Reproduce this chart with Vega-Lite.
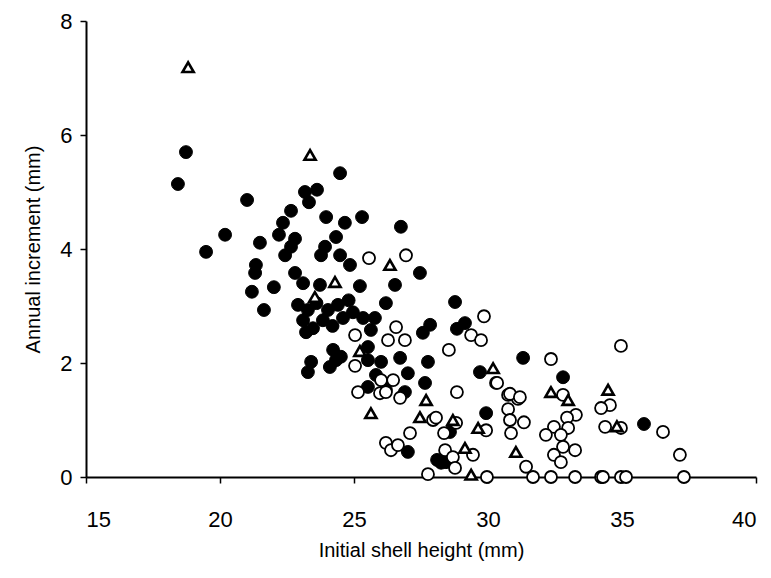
{
  "$schema": "https://vega.github.io/schema/vega-lite/v6.json",
  "width": 670,
  "height": 456,
  "autosize": {"type": "none"},
  "padding": {"left": 86, "top": 21, "right": 15, "bottom": 101},
  "background": "white",
  "config": {
    "view": {"stroke": null},
    "font": "Liberation Sans",
    "axis": {
      "grid": false,
      "domainColor": "black",
      "domainWidth": 2,
      "tickColor": "black",
      "tickWidth": 1.5,
      "tickSize": 6,
      "labelFontSize": 22,
      "labelColor": "black",
      "titleFontSize": 20,
      "titleFontWeight": "normal",
      "titleColor": "black"
    }
  },
  "data": {
    "values": [
      {"h": 18.43, "inc": 5.14, "g": "f"},
      {"h": 18.73, "inc": 5.70, "g": "f"},
      {"h": 19.48, "inc": 3.95, "g": "f"},
      {"h": 20.19, "inc": 4.25, "g": "f"},
      {"h": 21.01, "inc": 4.86, "g": "f"},
      {"h": 21.49, "inc": 4.11, "g": "f"},
      {"h": 21.34, "inc": 3.72, "g": "f"},
      {"h": 21.31, "inc": 3.58, "g": "f"},
      {"h": 21.19, "inc": 3.25, "g": "f"},
      {"h": 22.01, "inc": 3.33, "g": "f"},
      {"h": 21.64, "inc": 2.93, "g": "f"},
      {"h": 23.17, "inc": 5.00, "g": "f"},
      {"h": 23.62, "inc": 5.04, "g": "f"},
      {"h": 23.32, "inc": 4.82, "g": "f"},
      {"h": 24.48, "inc": 5.33, "g": "f"},
      {"h": 22.65, "inc": 4.67, "g": "f"},
      {"h": 22.35, "inc": 4.46, "g": "f"},
      {"h": 22.20, "inc": 4.25, "g": "f"},
      {"h": 22.80, "inc": 4.18, "g": "f"},
      {"h": 22.65, "inc": 4.04, "g": "f"},
      {"h": 22.43, "inc": 3.89, "g": "f"},
      {"h": 23.96, "inc": 4.56, "g": "f"},
      {"h": 24.66, "inc": 4.46, "g": "f"},
      {"h": 25.30, "inc": 4.56, "g": "f"},
      {"h": 24.33, "inc": 4.21, "g": "f"},
      {"h": 23.92, "inc": 4.04, "g": "f"},
      {"h": 23.77, "inc": 3.89, "g": "f"},
      {"h": 24.48, "inc": 3.89, "g": "f"},
      {"h": 24.85, "inc": 3.72, "g": "f"},
      {"h": 22.80, "inc": 3.58, "g": "f"},
      {"h": 23.10, "inc": 3.40, "g": "f"},
      {"h": 23.73, "inc": 3.37, "g": "f"},
      {"h": 25.22, "inc": 3.35, "g": "f"},
      {"h": 26.75, "inc": 4.39, "g": "f"},
      {"h": 27.46, "inc": 3.58, "g": "f"},
      {"h": 26.53, "inc": 3.37, "g": "f"},
      {"h": 26.19, "inc": 3.05, "g": "f"},
      {"h": 25.78, "inc": 2.79, "g": "f"},
      {"h": 25.63, "inc": 2.58, "g": "f"},
      {"h": 22.91, "inc": 3.02, "g": "f"},
      {"h": 23.28, "inc": 2.93, "g": "f"},
      {"h": 23.10, "inc": 2.75, "g": "f"},
      {"h": 23.47, "inc": 2.61, "g": "f"},
      {"h": 24.03, "inc": 2.93, "g": "f"},
      {"h": 24.40, "inc": 3.02, "g": "f"},
      {"h": 24.59, "inc": 2.79, "g": "f"},
      {"h": 24.96, "inc": 2.89, "g": "f"},
      {"h": 25.34, "inc": 2.79, "g": "f"},
      {"h": 23.84, "inc": 2.75, "g": "f"},
      {"h": 24.20, "inc": 2.65, "g": "f"},
      {"h": 23.60, "inc": 3.05, "g": "f"},
      {"h": 24.80, "inc": 3.10, "g": "f"},
      {"h": 23.21, "inc": 2.54, "g": "f"},
      {"h": 23.40, "inc": 2.02, "g": "f"},
      {"h": 23.28, "inc": 1.84, "g": "f"},
      {"h": 24.10, "inc": 1.93, "g": "f"},
      {"h": 24.33, "inc": 2.05, "g": "f"},
      {"h": 24.22, "inc": 2.23, "g": "f"},
      {"h": 24.51, "inc": 2.11, "g": "f"},
      {"h": 25.52, "inc": 2.05, "g": "f"},
      {"h": 25.52, "inc": 2.28, "g": "f"},
      {"h": 26.01, "inc": 2.02, "g": "f"},
      {"h": 26.72, "inc": 2.09, "g": "f"},
      {"h": 27.76, "inc": 2.02, "g": "f"},
      {"h": 27.01, "inc": 1.82, "g": "f"},
      {"h": 25.82, "inc": 1.79, "g": "f"},
      {"h": 27.65, "inc": 1.65, "g": "f"},
      {"h": 25.52, "inc": 1.58, "g": "f"},
      {"h": 26.19, "inc": 1.53, "g": "f"},
      {"h": 26.90, "inc": 1.49, "g": "f"},
      {"h": 27.84, "inc": 2.67, "g": "f"},
      {"h": 27.57, "inc": 2.53, "g": "f"},
      {"h": 28.77, "inc": 3.07, "g": "f"},
      {"h": 29.14, "inc": 2.70, "g": "f"},
      {"h": 28.84, "inc": 2.60, "g": "f"},
      {"h": 29.70, "inc": 1.84, "g": "f"},
      {"h": 31.31, "inc": 2.09, "g": "f"},
      {"h": 32.80, "inc": 1.75, "g": "f"},
      {"h": 35.82, "inc": 0.93, "g": "f"},
      {"h": 29.93, "inc": 1.12, "g": "f"},
      {"h": 28.58, "inc": 0.79, "g": "f"},
      {"h": 28.25, "inc": 0.25, "g": "f"},
      {"h": 28.43, "inc": 0.26, "g": "f"},
      {"h": 28.10, "inc": 0.30, "g": "f"},
      {"h": 27.01, "inc": 0.44, "g": "f"},
      {"h": 25.56, "inc": 3.84, "g": "o"},
      {"h": 26.94, "inc": 3.89, "g": "o"},
      {"h": 25.04, "inc": 2.49, "g": "o"},
      {"h": 26.57, "inc": 2.63, "g": "o"},
      {"h": 26.27, "inc": 2.40, "g": "o"},
      {"h": 26.90, "inc": 2.40, "g": "o"},
      {"h": 25.04, "inc": 1.95, "g": "o"},
      {"h": 26.01, "inc": 1.70, "g": "o"},
      {"h": 26.46, "inc": 1.70, "g": "o"},
      {"h": 25.15, "inc": 1.49, "g": "o"},
      {"h": 25.97, "inc": 1.47, "g": "o"},
      {"h": 26.19, "inc": 1.49, "g": "o"},
      {"h": 26.72, "inc": 1.39, "g": "o"},
      {"h": 27.95, "inc": 1.00, "g": "o"},
      {"h": 27.09, "inc": 0.77, "g": "o"},
      {"h": 26.19, "inc": 0.60, "g": "o"},
      {"h": 26.38, "inc": 0.47, "g": "o"},
      {"h": 26.64, "inc": 0.56, "g": "o"},
      {"h": 28.40, "inc": 0.47, "g": "o"},
      {"h": 27.76, "inc": 0.05, "g": "o"},
      {"h": 29.85, "inc": 2.82, "g": "o"},
      {"h": 29.37, "inc": 2.49, "g": "o"},
      {"h": 29.74, "inc": 2.40, "g": "o"},
      {"h": 28.54, "inc": 2.23, "g": "o"},
      {"h": 32.35, "inc": 2.07, "g": "o"},
      {"h": 34.96, "inc": 2.30, "g": "o"},
      {"h": 30.30, "inc": 1.65, "g": "o"},
      {"h": 28.84, "inc": 1.49, "g": "o"},
      {"h": 30.75, "inc": 1.44, "g": "o"},
      {"h": 31.12, "inc": 1.37, "g": "o"},
      {"h": 32.80, "inc": 1.44, "g": "o"},
      {"h": 34.55, "inc": 1.26, "g": "o"},
      {"h": 34.22, "inc": 1.21, "g": "o"},
      {"h": 30.75, "inc": 1.19, "g": "o"},
      {"h": 30.82, "inc": 1.00, "g": "o"},
      {"h": 31.34, "inc": 0.96, "g": "o"},
      {"h": 30.86, "inc": 0.77, "g": "o"},
      {"h": 33.28, "inc": 1.09, "g": "o"},
      {"h": 32.95, "inc": 1.04, "g": "o"},
      {"h": 32.99, "inc": 0.86, "g": "o"},
      {"h": 32.46, "inc": 0.88, "g": "o"},
      {"h": 32.16, "inc": 0.74, "g": "o"},
      {"h": 32.72, "inc": 0.74, "g": "o"},
      {"h": 32.80, "inc": 0.53, "g": "o"},
      {"h": 33.25, "inc": 0.47, "g": "o"},
      {"h": 32.46, "inc": 0.39, "g": "o"},
      {"h": 32.72, "inc": 0.26, "g": "o"},
      {"h": 34.37, "inc": 0.88, "g": "o"},
      {"h": 34.96, "inc": 0.86, "g": "o"},
      {"h": 36.53, "inc": 0.79, "g": "o"},
      {"h": 37.16, "inc": 0.39, "g": "o"},
      {"h": 28.06, "inc": 1.04, "g": "o"},
      {"h": 28.81, "inc": 0.95, "g": "o"},
      {"h": 29.93, "inc": 0.82, "g": "o"},
      {"h": 28.36, "inc": 0.77, "g": "o"},
      {"h": 28.69, "inc": 0.35, "g": "o"},
      {"h": 29.44, "inc": 0.39, "g": "o"},
      {"h": 28.77, "inc": 0.16, "g": "o"},
      {"h": 29.96, "inc": 0.0, "g": "o"},
      {"h": 31.42, "inc": 0.18, "g": "o"},
      {"h": 31.68, "inc": 0.0, "g": "o"},
      {"h": 32.35, "inc": 0.0, "g": "o"},
      {"h": 33.25, "inc": 0.0, "g": "o"},
      {"h": 34.22, "inc": 0.0, "g": "o"},
      {"h": 34.29, "inc": 0.0, "g": "o"},
      {"h": 34.96, "inc": 0.0, "g": "o"},
      {"h": 35.15, "inc": 0.0, "g": "o"},
      {"h": 37.31, "inc": 0.0, "g": "o"},
      {"h": 30.34, "inc": 1.65, "g": "o"},
      {"h": 30.82, "inc": 1.46, "g": "o"},
      {"h": 31.19, "inc": 1.40, "g": "o"},
      {"h": 18.81, "inc": 7.19, "g": "t"},
      {"h": 23.36, "inc": 5.65, "g": "t"},
      {"h": 24.29, "inc": 3.42, "g": "t"},
      {"h": 23.54, "inc": 3.16, "g": "t"},
      {"h": 26.34, "inc": 3.72, "g": "t"},
      {"h": 25.22, "inc": 2.21, "g": "t"},
      {"h": 27.69, "inc": 1.35, "g": "t"},
      {"h": 27.46, "inc": 1.05, "g": "t"},
      {"h": 25.63, "inc": 1.12, "g": "t"},
      {"h": 30.19, "inc": 1.91, "g": "t"},
      {"h": 32.35, "inc": 1.49, "g": "t"},
      {"h": 32.99, "inc": 1.35, "g": "t"},
      {"h": 34.48, "inc": 1.53, "g": "t"},
      {"h": 34.81, "inc": 0.89, "g": "t"},
      {"h": 28.69, "inc": 1.00, "g": "t"},
      {"h": 29.63, "inc": 0.86, "g": "t"},
      {"h": 31.04, "inc": 0.44, "g": "t"},
      {"h": 29.14, "inc": 0.51, "g": "t"},
      {"h": 29.37, "inc": 0.04, "g": "t"}
    ]
  },
  "mark": {"type": "point", "filled": true, "stroke": "black", "opacity": 1, "strokeOpacity": 1, "fillOpacity": 1},
  "encoding": {
    "x": {
      "field": "h",
      "type": "quantitative",
      "scale": {"domain": [15, 40], "nice": false, "zero": false},
      "axis": {"values": [15, 20, 25, 30, 35, 40], "title": "Initial shell height (mm)", "labelPadding": 26, "titlePadding": 10}
    },
    "y": {
      "field": "inc",
      "type": "quantitative",
      "scale": {"domain": [0, 8], "nice": false},
      "axis": {"values": [0, 2, 4, 6, 8], "title": "Annual increment (mm)", "labelPadding": 8, "titlePadding": 16}
    },
    "shape": {
      "field": "g",
      "type": "nominal",
      "scale": {"domain": ["f", "o", "t"], "range": ["circle", "circle", "triangle-up"]},
      "legend": null
    },
    "fill": {
      "field": "g",
      "type": "nominal",
      "scale": {"domain": ["f", "o", "t"], "range": ["black", "white", "white"]},
      "legend": null
    },
    "size": {
      "field": "g",
      "type": "nominal",
      "scale": {"domain": ["f", "o", "t"], "range": [165, 125, 130]},
      "legend": null
    },
    "strokeWidth": {
      "field": "g",
      "type": "nominal",
      "scale": {"domain": ["f", "o", "t"], "range": [1, 2.6, 3.2]},
      "legend": null
    }
  }
}
